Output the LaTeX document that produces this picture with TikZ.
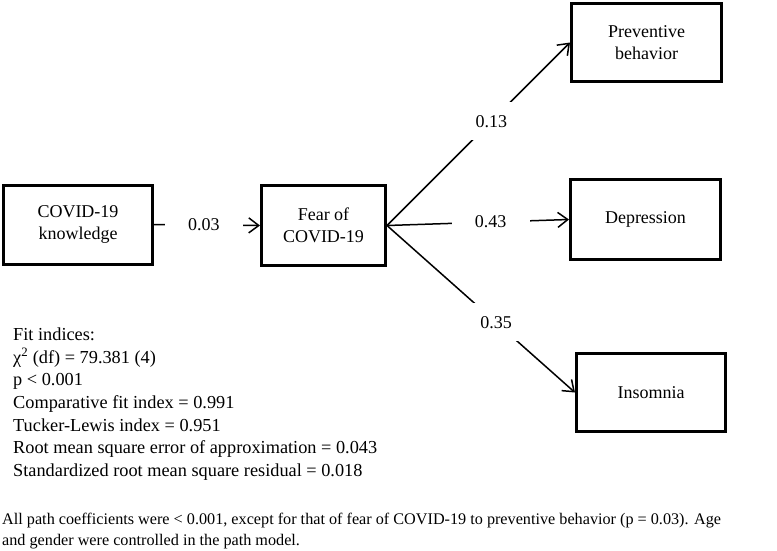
\documentclass[tikz,border=0pt]{standalone}
\usepackage{fontspec}
\setmainfont{Liberation Serif}
\usetikzlibrary{arrows.meta}
\begin{document}
\begin{tikzpicture}[x=1pt,y=-1pt,
  box/.style={draw,line width=3pt,rectangle,align=center,inner sep=0pt,
    font=\fontsize{18}{22}\selectfont},
  path/.style={line width=1.5pt,-{Straight Barb[length=10pt,width=15pt,line width=1.5pt]}},
  lab/.style={fill=white,inner sep=0pt,minimum width=78pt,minimum height=38pt,
    font=\fontsize{18}{22}\selectfont},
  note/.style={align=left,inner sep=0pt,anchor=north west}
]
\useasboundingbox (0,0) rectangle (777,550);
\node[box,minimum width=149pt,minimum height=79pt] (know) at (78,224.5) {COVID-19\\knowledge};
\node[box,minimum width=124pt,minimum height=80pt] (fear) at (323.5,225.5) {Fear of\\COVID-19};
\node[box,minimum width=150pt,minimum height=78pt] (prev) at (646.5,42.5) {Preventive\\behavior};
\node[box,minimum width=150pt,minimum height=80pt] (dep) at (645.5,219.5) {Depression};
\node[box,minimum width=149pt,minimum height=78pt] (ins) at (651,392.5) {Insomnia};

\draw[path] (know.east) -- node[lab,pos=0.47] (l1) {0.03} (fear.west);
\draw[path] (fear.east) -- node[lab,pos=0.57] (l2) {0.13} (prev.west);
\draw[path] (fear.east) -- node[lab,pos=0.57] (l3) {0.43} (dep.west);
\draw[path] (fear.east) -- node[lab,pos=0.58] (l4) {0.35} (ins.west);

\node[note,font=\fontsize{18.3}{22.7}\selectfont] (fit) at (13,327.5) {Fit indices:\\
χ\textsuperscript{2} (df) = 79.381 (4)\\
p < 0.001\\
Comparative fit index = 0.991\\
Tucker-Lewis index = 0.951\\
Root mean square error of approximation = 0.043\\
Standardized root mean square residual = 0.018};

\node[note,font=\fontsize{16.2}{21}\selectfont] (foot) at (2,513) {All path coefficients were < 0.001, except for that of fear of COVID-19 to preventive behavior (p = 0.03). Age\\
and gender were controlled in the path model.};
\end{tikzpicture}
\end{document}
